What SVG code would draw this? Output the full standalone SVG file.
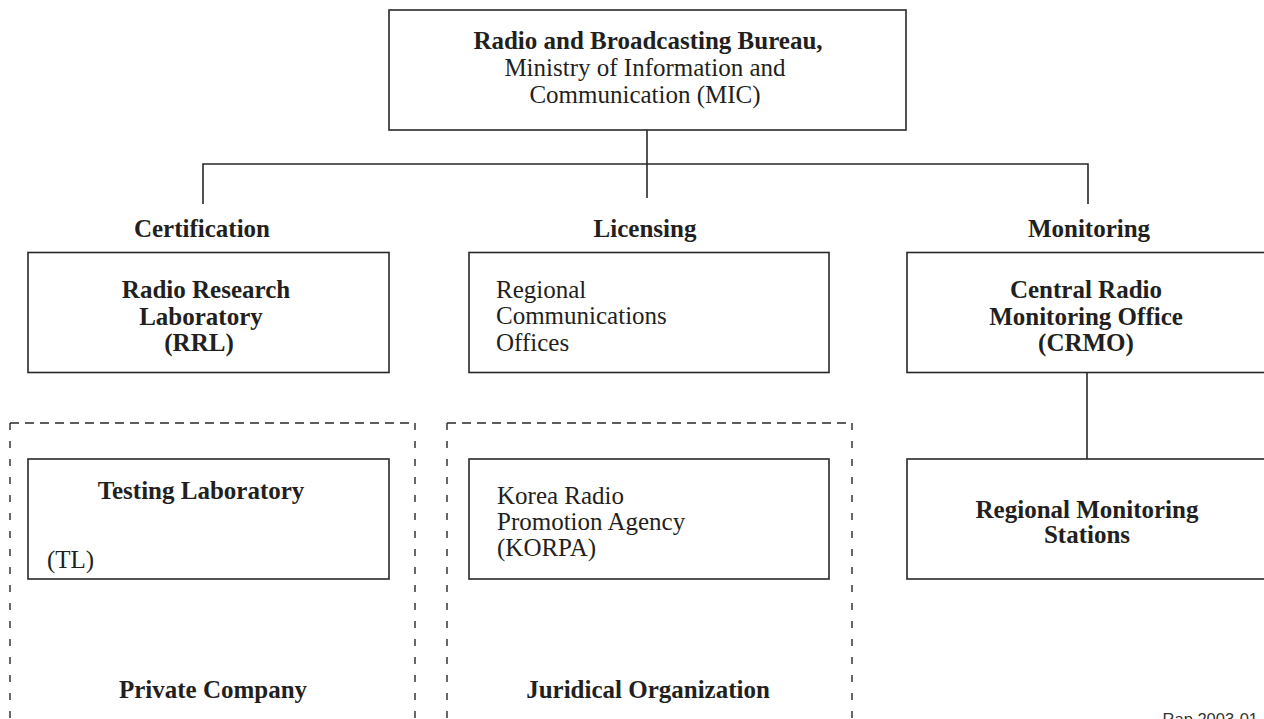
<svg xmlns="http://www.w3.org/2000/svg" width="1264" height="719" viewBox="0 0 1264 719">
<style>
.box{fill:#fff;stroke:#2b2728;stroke-width:1.6}
.dash{fill:none;stroke:#2b2728;stroke-width:1.4}
.h{stroke-dasharray:9 6}
.v{stroke-dasharray:7 11}
.ln{fill:none;stroke:#2b2728;stroke-width:1.6}
text{font-family:"Liberation Serif","Times New Roman",serif;font-size:25px;fill:#231f20}
.b{font-weight:bold}
.c{text-anchor:middle}
.tag{font-family:"Liberation Sans",Arial,sans-serif;font-size:16.5px;fill:#333;text-anchor:end}
</style>
<rect width="1264" height="719" fill="#fff"/>
<g id="connectors">
<path class="ln" d="M647 130 V198"/>
<path class="ln" d="M203 204 V164 H1088 V204"/>
<path class="ln" d="M1087 372 V459"/>
</g>
<g id="group-private">
<path class="dash h" d="M10 423 H415"/>
<path class="dash v" d="M10 423 V719 M415 423 V719"/>
<text class="b c" x="213" y="698">Private Company</text>
</g>
<g id="group-juridical">
<path class="dash h" d="M447 423 H852"/>
<path class="dash v" d="M447 423 V719 M852 423 V719"/>
<text class="b c" x="648" y="698">Juridical Organization</text>
</g>
<g id="bureau">
<rect class="box" x="389" y="10" width="517" height="120"/>
<text class="b c" x="648" y="49">Radio and Broadcasting Bureau,</text>
<text class="c" x="645" y="76">Ministry of Information and</text>
<text class="c" x="645" y="103">Communication (MIC)</text>
</g>
<g id="headers">
<text class="b c" x="202" y="237">Certification</text>
<text class="b c" x="645" y="237">Licensing</text>
<text class="b c" x="1089" y="237">Monitoring</text>
</g>
<g id="rrl">
<rect class="box" x="28" y="252.5" width="361" height="120"/>
<text class="b c" x="206" y="298">Radio Research</text>
<text class="b c" x="201" y="325">Laboratory</text>
<text class="b c" x="199" y="351">(RRL)</text>
</g>
<g id="rco">
<rect class="box" x="469" y="252.5" width="360" height="120"/>
<text x="496" y="298">Regional</text>
<text x="496" y="324">Communications</text>
<text x="496" y="351">Offices</text>
</g>
<g id="crmo">
<rect class="box" x="907" y="252.5" width="364" height="120"/>
<text class="b c" x="1086" y="298">Central Radio</text>
<text class="b c" x="1086" y="325">Monitoring Office</text>
<text class="b c" x="1086" y="351">(CRMO)</text>
</g>
<g id="tl">
<rect class="box" x="28" y="459" width="361" height="120"/>
<text class="b c" x="201" y="499">Testing Laboratory</text>
<text x="47" y="568">(TL)</text>
</g>
<g id="korpa">
<rect class="box" x="469" y="459" width="360" height="120"/>
<text x="497" y="504">Korea Radio</text>
<text x="497" y="530">Promotion Agency</text>
<text x="497" y="556">(KORPA)</text>
</g>
<g id="rms">
<rect class="box" x="907" y="459" width="364" height="120"/>
<text class="b c" x="1087" y="518">Regional Monitoring</text>
<text class="b c" x="1087" y="543">Stations</text>
</g>
<text class="tag" x="1258" y="725">Rap 2003-01</text>
</svg>
